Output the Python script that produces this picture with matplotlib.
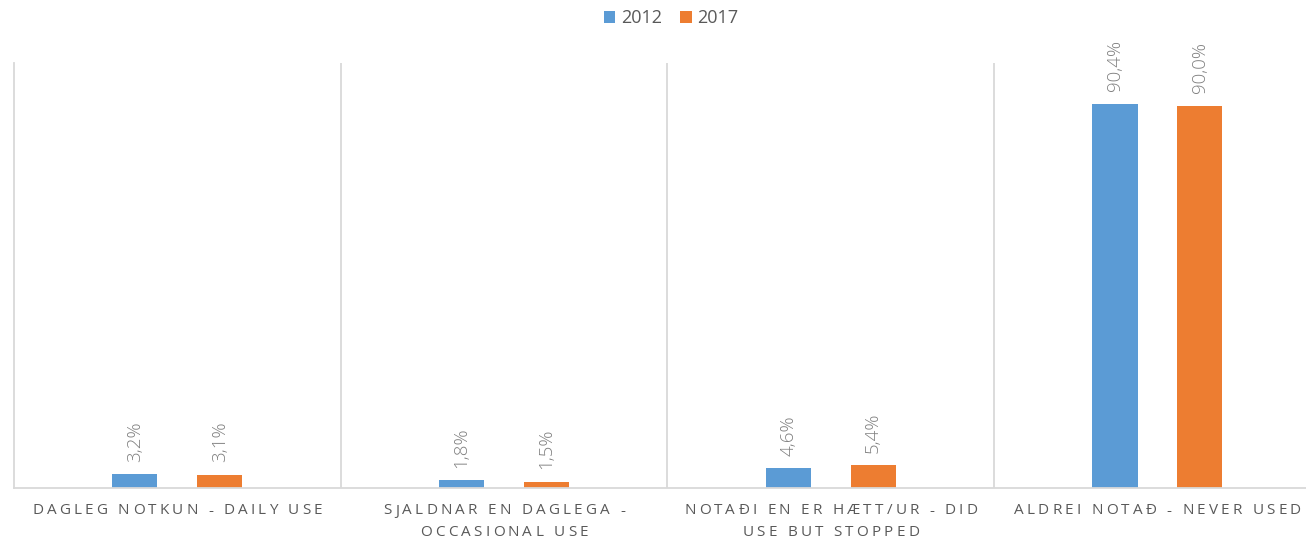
import matplotlib
matplotlib.use("Agg")
import matplotlib.pyplot as plt
from matplotlib.font_manager import FontProperties
from matplotlib.patches import Patch
from matplotlib.textpath import TextPath
from matplotlib.transforms import blended_transform_factory, offset_copy

categories = [
    ["DAGLEG NOTKUN - DAILY USE"],
    ["SJALDNAR EN DAGLEGA -", "OCCASIONAL USE"],
    ["NOTAÐI EN ER HÆTT/UR - DID", "USE BUT STOPPED"],
    ["ALDREI NOTAÐ - NEVER USED"],
]
series_names = ["2012", "2017"]
values_2012 = [3.2, 1.8, 4.6, 90.4]
values_2017 = [3.1, 1.5, 5.4, 90.0]

BLUE = "#5b9bd5"
ORANGE = "#ed7d31"
GRID = "#d9d9d9"
FONT = "Open Sans"

fig = plt.figure(figsize=(13.06, 5.45), dpi=100)
W, H = 1306, 545
ax = fig.add_axes([14 / W, (H - 488) / H, 1306.8 / W, (488 - 63) / H])

width = 0.138
offset = 0.130
xs = range(len(categories))
for vals, color, sign in [(values_2012, BLUE, -1), (values_2017, ORANGE, 1)]:
    pos = [x + sign * offset for x in xs]
    ax.bar(pos, vals, width=width, color=color, zorder=2)
    for p, v in zip(pos, vals):
        ax.annotate(f"{v:.1f}%".replace(".", ","), (p, v), xytext=(0, 9),
                    textcoords="offset points", rotation=90, ha="center", va="bottom",
                    fontsize=13.5, fontweight="light", color="#808080", family=FONT)

ax.set_xlim(-0.5, 3.5)
ax.set_ylim(0, 100)
for x in [0.5, 1.5, 2.5]:
    ax.axvline(x, color=GRID, lw=1.3, zorder=1)
for side in ["top", "right"]:
    ax.spines[side].set_visible(False)
ax.spines["left"].set_color(GRID)
ax.spines["bottom"].set_color(GRID)
ax.spines["left"].set_linewidth(1.3)
ax.spines["bottom"].set_linewidth(1.3)
ax.set_xticks([])
ax.set_yticks([])


def char_widths(s, size, prop):
    base = TextPath((0, 0), "||", size=size, prop=prop).get_extents().width
    return [TextPath((0, 0), "|" + c + "|", size=size, prop=prop).get_extents().width - base for c in s]


def spaced_text(x, y_fig, s, size=11, tracking=2.3, color="#595959"):
    prop = FontProperties(family=FONT)
    widths = char_widths(s, size, prop)
    total = sum(widths) + tracking * (len(s) - 1)
    trans = blended_transform_factory(ax.transData, fig.transFigure)
    cur = -total / 2
    for c, w in zip(s, widths):
        fig.text(x, y_fig, c, transform=offset_copy(trans, fig=fig, x=cur, y=0, units="points"),
                 fontsize=size, family=FONT, color=color, ha="left", va="center")
        cur += w + tracking


for i, lines in enumerate(categories):
    for j, line in enumerate(lines):
        spaced_text(i, 1 - (511 + 22 * j) / H, line)

handles = [Patch(facecolor=BLUE, label=series_names[0]), Patch(facecolor=ORANGE, label=series_names[1])]
fig.legend(handles=handles, loc="center", bbox_to_anchor=(671 / W, 1 - 18 / H), ncol=2,
           frameon=False, handlelength=0.65, handleheight=0.65, handletextpad=0.3, columnspacing=1.0,
           prop={"family": FONT, "size": 13}, labelcolor="#595959")

fig.savefig("out.png", dpi=100)
